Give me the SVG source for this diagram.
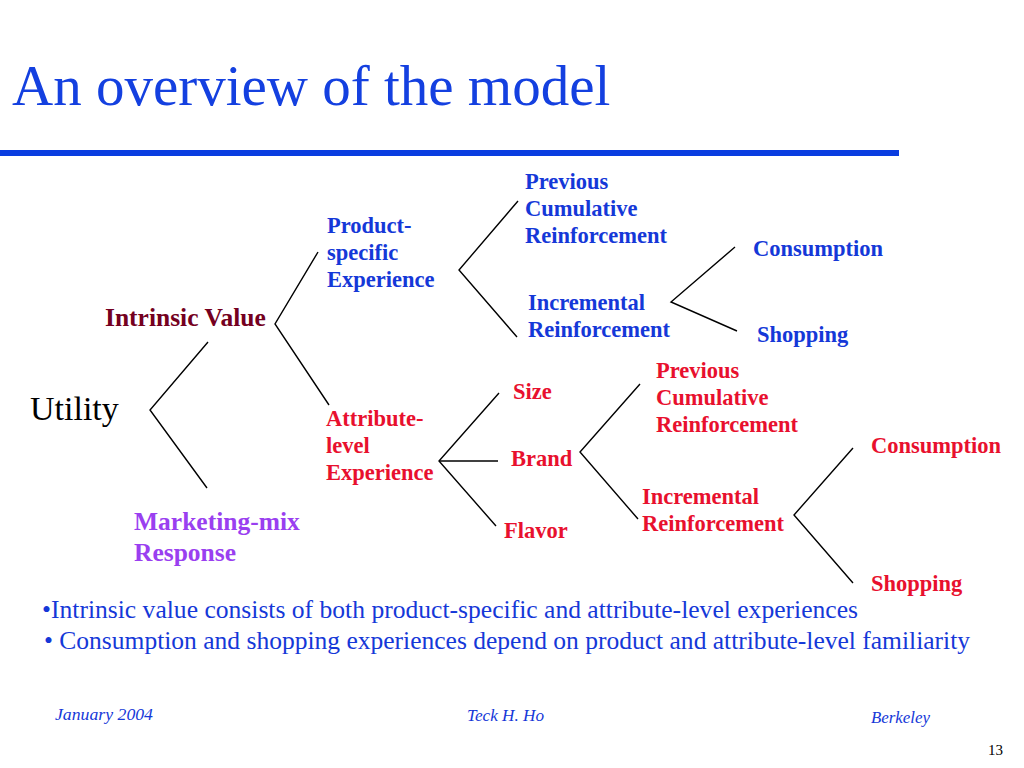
<svg xmlns="http://www.w3.org/2000/svg" width="1024" height="768" viewBox="0 0 1024 768">
<style>
.t{font-family:"Liberation Serif","Times New Roman",serif}
.b{font-weight:bold;font-size:22.5px}
.blue{fill:#1538d8}
.red{fill:#e8102e}
.purp{fill:#9a3ff0}
.maroon{fill:#740020}
.ln{stroke:#000;stroke-width:1.4;fill:none}
.foot{font-family:"Liberation Serif","Times New Roman",serif;font-style:italic;font-size:17px;fill:#1538d8}
</style>
<rect width="1024" height="768" fill="#fff"/>
<g id="title">
<text class="t" x="12" y="105" font-size="57" fill="#1440e0">An overview of the model</text>
<rect x="0" y="150" width="899" height="6" fill="#0a3de0"/>
</g>
<g id="connectors">
<polyline class="ln" points="208,342 150,410 207,488"/>
<polyline class="ln" points="318,252 275,324 329,405"/>
<polyline class="ln" points="518,201 459,270 517,337"/>
<polyline class="ln" points="735,247 671,302 737,331"/>
<polyline class="ln" points="499,393 439,461 496,526"/>
<line class="ln" x1="439" y1="461" x2="498" y2="461"/>
<polyline class="ln" points="640,384 580,452 638,519"/>
<polyline class="ln" points="853,448 794,515 853,583"/>
</g>
<g id="utility"><text class="t" x="30" y="420" font-size="34" fill="#000">Utility</text></g>
<g id="intrinsic"><text class="t maroon" x="105" y="326" font-size="25.5" font-weight="bold">Intrinsic Value</text></g>
<g id="marketing"><text class="t purp" font-size="25.5" font-weight="bold"><tspan x="134" y="530">Marketing-mix</tspan><tspan x="134" y="561">Response</tspan></text></g>
<g id="product"><text class="t b blue"><tspan x="327" y="233">Product-</tspan><tspan x="327" y="260">specific</tspan><tspan x="327" y="287">Experience</tspan></text></g>
<g id="attribute"><text class="t b red"><tspan x="326" y="426">Attribute-</tspan><tspan x="326" y="453">level</tspan><tspan x="326" y="480">Experience</tspan></text></g>
<g id="prev-blue"><text class="t b blue"><tspan x="525" y="189">Previous</tspan><tspan x="525" y="216">Cumulative</tspan><tspan x="525" y="243">Reinforcement</tspan></text></g>
<g id="incr-blue"><text class="t b blue"><tspan x="528" y="310">Incremental</tspan><tspan x="528" y="337">Reinforcement</tspan></text></g>
<g id="cons-blue"><text class="t b blue" x="753" y="256">Consumption</text></g>
<g id="shop-blue"><text class="t b blue" x="757" y="342">Shopping</text></g>
<g id="size"><text class="t b red" x="513" y="399">Size</text></g>
<g id="brand"><text class="t b red" x="511" y="466">Brand</text></g>
<g id="flavor"><text class="t b red" x="504" y="538">Flavor</text></g>
<g id="prev-red"><text class="t b red"><tspan x="656" y="378">Previous</tspan><tspan x="656" y="405">Cumulative</tspan><tspan x="656" y="432">Reinforcement</tspan></text></g>
<g id="incr-red"><text class="t b red"><tspan x="642" y="504">Incremental</tspan><tspan x="642" y="531">Reinforcement</tspan></text></g>
<g id="cons-red"><text class="t b red" x="871" y="453">Consumption</text></g>
<g id="shop-red"><text class="t b red" x="871" y="591">Shopping</text></g>
<g id="bullets">
<text class="t blue" font-size="24.5" x="42" y="618" textLength="816" lengthAdjust="spacingAndGlyphs">•Intrinsic value consists of both product-specific and attribute-level experiences</text>
<text class="t blue" font-size="24.5" x="44" y="649" textLength="926" lengthAdjust="spacingAndGlyphs">• Consumption and shopping experiences depend on product and attribute-level familiarity</text>
</g>
<g id="footer">
<text class="foot" x="55" y="720" textLength="98" lengthAdjust="spacingAndGlyphs">January  2004</text>
<text class="foot" x="467" y="721" textLength="77" lengthAdjust="spacingAndGlyphs">Teck H. Ho</text>
<text class="foot" x="871" y="723" textLength="59" lengthAdjust="spacingAndGlyphs">Berkeley</text>
<text class="t" x="988" y="755" font-size="15" fill="#000">13</text>
</g>
</svg>
